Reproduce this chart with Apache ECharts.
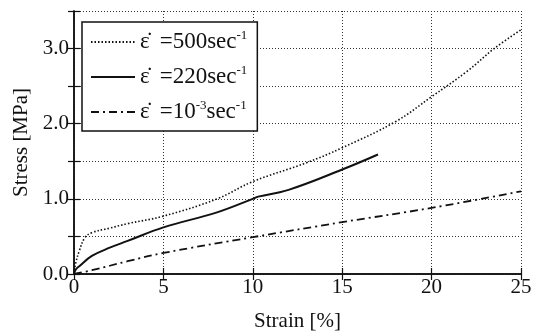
<!DOCTYPE html>
<html>
<head>
<meta charset="utf-8">
<script src="https://cdn.jsdelivr.net/npm/echarts@6/dist/echarts.min.js"></script>
<style>
  html, body { margin: 0; padding: 0; background: #fff; }
  #chart { width: 533px; height: 333px; }
</style>
</head>
<body>
<div id="chart"></div>
<script>
// strain [%] / stress [MPa]
var strain500 = [0, 0.1, 0.3, 0.6, 1, 2, 3, 5, 8, 10, 13, 15, 18, 20, 22, 23.5, 25];
var stress500 = [0, 0.15, 0.31, 0.48, 0.55, 0.61, 0.67, 0.77, 1.0, 1.23, 1.48, 1.68, 2.03, 2.36, 2.7, 3.0, 3.25];

var strain220 = [0, 0.1, 0.33, 1, 2, 3, 5, 8, 10, 10.3, 12, 15, 17];
var stress220 = [0, 0.06, 0.11, 0.24, 0.35, 0.44, 0.62, 0.82, 1.0, 1.03, 1.12, 1.39, 1.59];

var strain10 = [0, 1, 3, 5, 10, 15, 20, 25];
var stress10 = [0, 0.05, 0.17, 0.28, 0.49, 0.69, 0.88, 1.1];

var seriesNames = ['500', '220', '10-3'];

function pairs(xs, ys){
	var out = [];
	for(var i=0; i<xs.length; i++){
		out.push([xs[i], ys[i]]);
	}
	return out;
}

var font = 'Liberation Serif';
var ink = '#111';

var chart = echarts.init(document.getElementById('chart'), null, {renderer: 'canvas'});

var option = {
	animation: false,
	backgroundColor: '#fff',
	textStyle: { fontFamily: font, color: ink },
	grid: { left: 74, right: 12, top: 11, bottom: 59, outerBoundsMode: 'none', containLabel: false },
	legend: {
		orient: 'vertical',
		left: 82,
		top: 22,
		padding: [7, 10, 7, 8],
		itemWidth: 44,
		itemHeight: 14,
		itemGap: 10,
		backgroundColor: '#fff',
		borderColor: ink,
		borderWidth: 1.5,
		borderRadius: 0,
		itemStyle: { opacity: 0 },
		data: seriesNames,
		formatter: function(name){
			if(name === '10-3'){
				return '{e|ε̇}{t|=10}{s|-3}{t|sec}{s|-1}';
			}
			return '{e|ε̇}{t|=' + name + 'sec}{s|-1}';
		},
		textStyle: {
			fontFamily: font,
			color: ink,
			rich: {
				e: { fontFamily: font, fontSize: 23, color: ink, lineHeight: 26, padding: [0, 10, 0, 0] },
				t: { fontFamily: font, fontSize: 23, color: ink, lineHeight: 26 },
				s: { fontFamily: font, fontSize: 13, color: ink, verticalAlign: 'top', lineHeight: 26, padding: [0, 0, 12, 0] }
			}
		}
	},
	xAxis: [{
		type: 'value',
		min: 0, max: 25, interval: 5,
		name: 'Strain [%]',
		nameLocation: 'middle',
		nameGap: 37,
		nameTextStyle: { fontFamily: font, fontSize: 21, color: ink },
		axisLine: { lineStyle: { color: ink, width: 1.5 } },
		axisTick: { inside: true, length: 6, lineStyle: { color: ink, width: 1.2 } },
		axisLabel: { fontFamily: font, fontSize: 21, color: ink, margin: 3 },
		splitLine: { show: true, lineStyle: { color: '#333', type: [1, 2], width: 1 } }
	}, {
		type: 'value',
		position: 'top',
		min: 0, max: 25, interval: 5,
		axisLine: { show: true, lineStyle: { color: ink, width: 1.5 } },
		axisTick: { inside: true, length: 6, lineStyle: { color: ink, width: 1.2 } },
		axisLabel: { show: false },
		splitLine: { show: false }
	}],
	yAxis: [{
		type: 'value',
		min: 0, max: 3.5, interval: 0.5,
		name: 'Stress [MPa]',
		nameLocation: 'middle',
		nameGap: 40,
		nameTextStyle: { fontFamily: font, fontSize: 21, color: ink },
		axisLine: { show: true, lineStyle: { color: ink, width: 1.5 } },
		axisTick: { inside: true, length: 6, lineStyle: { color: ink, width: 1.2 } },
		axisLabel: {
			fontFamily: font, fontSize: 21, color: ink, margin: 5,
			formatter: function(v){ return (Math.abs(v % 1) < 1e-6) ? v.toFixed(1) : ''; }
		},
		splitLine: { show: true, lineStyle: { color: '#333', type: [1, 2], width: 1 } }
	}, {
		type: 'value',
		position: 'right',
		min: 0, max: 3.5, interval: 0.5,
		axisLine: { show: true, lineStyle: { color: ink, width: 1.5 } },
		axisTick: { inside: true, length: 6, lineStyle: { color: ink, width: 1.2 } },
		axisLabel: { show: false },
		splitLine: { show: false }
	}],
	series: [{
		name: '500',
		type: 'line',
		smooth: 0.4,
		showSymbol: false,
		symbol: 'none',
		lineStyle: { color: ink, width: 1.6, type: [1.5, 2] },
		itemStyle: { color: ink },
		data: pairs(strain500, stress500)
	}, {
		name: '220',
		type: 'line',
		smooth: 0.4,
		showSymbol: false,
		symbol: 'none',
		lineStyle: { color: ink, width: 2 },
		itemStyle: { color: ink },
		data: pairs(strain220, stress220)
	}, {
		name: '10-3',
		type: 'line',
		smooth: 0.4,
		showSymbol: false,
		symbol: 'none',
		lineStyle: { color: ink, width: 1.8, type: [8, 4, 2, 4] },
		itemStyle: { color: ink },
		data: pairs(strain10, stress10)
	}]
};

chart.setOption(option);
</script>
</body>
</html>
